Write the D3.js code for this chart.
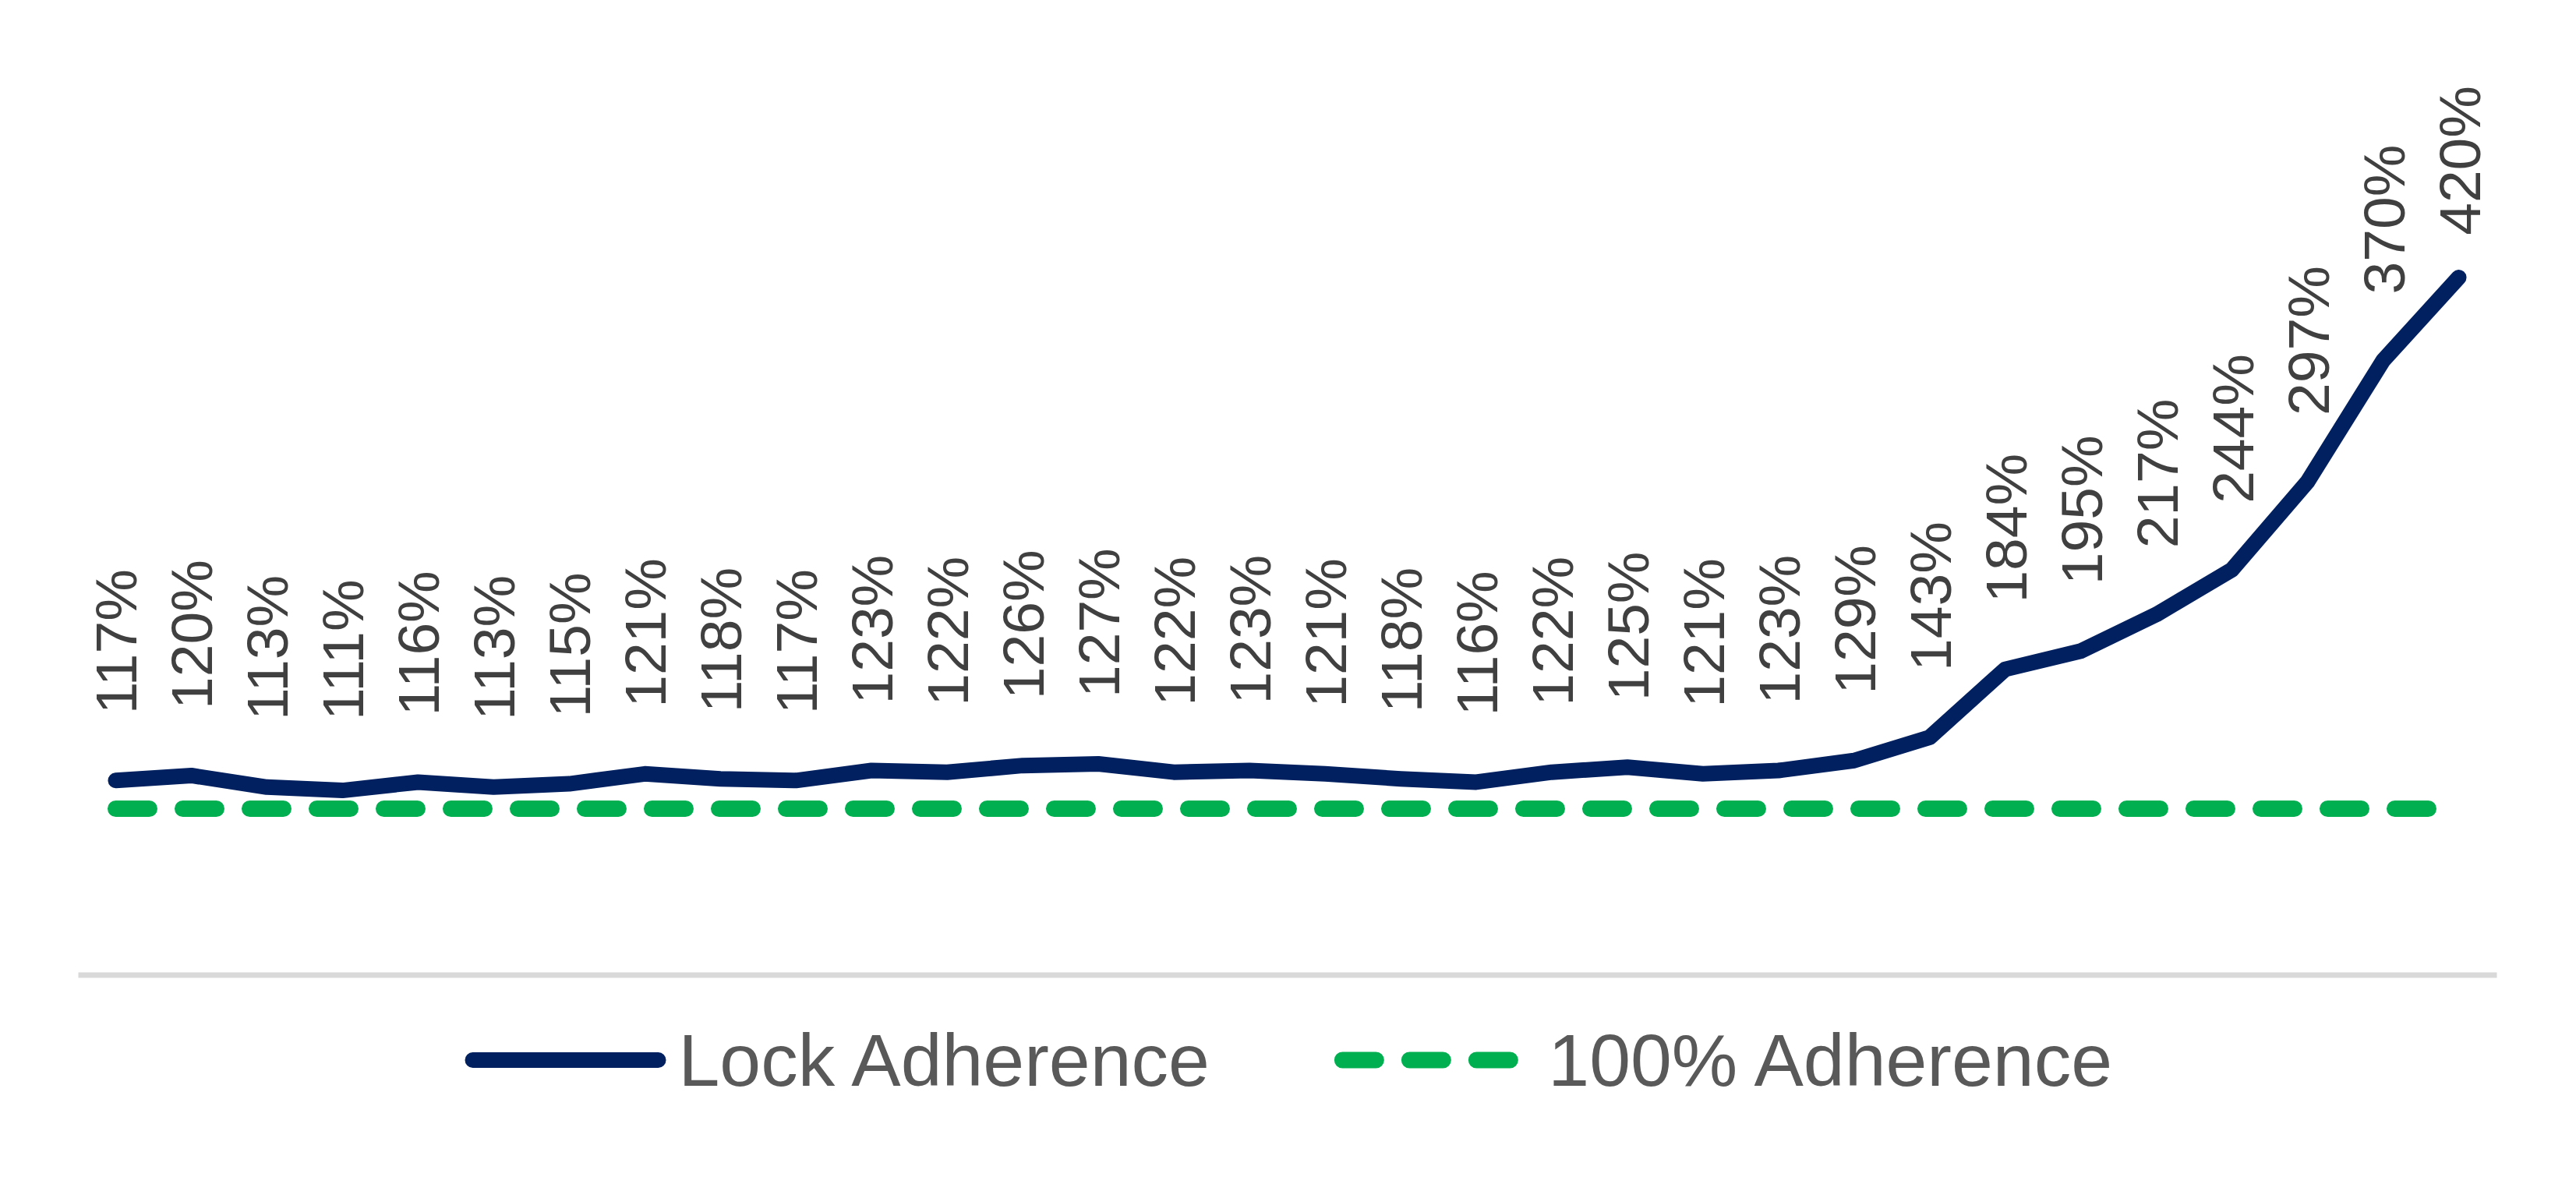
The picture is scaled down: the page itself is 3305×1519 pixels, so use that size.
<!DOCTYPE html>
<html lang="en">
<head>
	<meta charset="UTF-8">
	<title>Lock Adherence</title>
	<script src="https://cdnjs.cloudflare.com/ajax/libs/d3/7.8.5/d3.min.js"></script>
	<style>
		*{
			padding: 0;
			margin: 0;
		}
		body{
			background-color: #fff;
		}
		#container{
			width: 3305px;
			height: 1519px;
		}
		text{
			font-family: "Liberation Sans", Arial, sans-serif;
		}
		.label{
			fill: #404040;
			font-size: 75px;
		}
		.legend text{
			fill: #595959;
			font-size: 95px;
		}
	</style>
</head>
<body>
	<div id="container"></div>
<script>
	// periods along the x axis (no tick labels shown on the chart)
	var categories=['1','2','3','4','5','6','7','8','9','10','11','12','13','14','15','16',
		'17','18','19','20','21','22','23','24','25','26','27','28','29','30','31','32']

	// lock adherence, percent
	var lock_adherence=[117,120,113,111,116,113,115,121,118,117,123,122,126,127,122,123,
		121,118,116,122,125,121,123,129,143,184,195,217,244,297,370,420]

	// reference line, percent
	var full_adherence=[100,100,100,100,100,100,100,100,100,100,100,100,100,100,100,100,
		100,100,100,100,100,100,100,100,100,100,100,100,100,100,100,100]

	var series_names=['Lock Adherence','100% Adherence']
	var series_colors=['#002060','#00B050']

	var width=3305,
	height=1519

	var svg=d3.select('#container')
	.append('svg')
	.attr('width',width)
	.attr('height',height)

	var scale_x=d3.scalePoint()
	.domain(categories)
	.range([100,3203])
	.padding(0.5)

	var scale_y=d3.scaleLinear()
	.domain([0,420])
	.range([1250.5,356])

	// category axis: just the light gray baseline
	var x_axis=d3.axisBottom(scale_x).tickSize(0).tickFormat('')
	svg.append('g')
	.attr('transform','translate(0,'+scale_y(0)+')')
	.call(x_axis)
	.call(function(g){
		g.select('.domain').attr('stroke','#d9d9d9').attr('stroke-width',7)
		g.selectAll('.tick').remove()
	})

	var line_generator=d3.line()
	.x(function(d,i){return scale_x(categories[i])})
	.y(function(d){return scale_y(d)})

	svg.append('path')
	.attr('d',line_generator(full_adherence))
	.attr('fill','none')
	.attr('stroke',series_colors[1])
	.attr('stroke-width',21)
	.attr('stroke-linecap','round')
	.attr('stroke-dasharray','43 43')

	svg.append('path')
	.attr('d',line_generator(lock_adherence))
	.attr('fill','none')
	.attr('stroke',series_colors[0])
	.attr('stroke-width',20)
	.attr('stroke-linecap','round')
	.attr('stroke-linejoin','round')

	// rotated data labels above each point
	var label_floor=924,
	label_gap=85,
	label_top=110

	var labels=svg.append('g')
	.selectAll('text')
	.data(lock_adherence)
	.enter()
	.append('text')
	.attr('class','label')
	.text(function(d){return d+'%'})

	labels.each(function(d,i){
		var len=this.getComputedTextLength()
		var bottom=Math.min(label_floor,scale_y(d)-label_gap)
		bottom=Math.max(bottom,label_top+len)
		d3.select(this)
		.attr('transform','translate('+scale_x(categories[i])+','+bottom+') rotate(-90)')
		.attr('dy','0.36em')
	})

	// legend
	var legend=svg.append('g').attr('class','legend')
	var sample_len=238,
	cap=10.5,
	text_gap=26,
	item_gap=160,
	legend_y=1360

	var items=[]
	var x=0
	series_names.forEach(function(name,i){
		var item=legend.append('g')
		item.append('line')
		.attr('x1',x+cap)
		.attr('x2',x+cap+sample_len)
		.attr('y1',legend_y)
		.attr('y2',legend_y)
		.attr('stroke',series_colors[i])
		.attr('stroke-width',i==0?20:21)
		.attr('stroke-linecap','round')
		.attr('stroke-dasharray',i==0?null:'43 43')
		var t=item.append('text')
		.attr('x',x+cap+sample_len+text_gap)
		.attr('y',legend_y)
		.attr('dy','0.35em')
		.text(name)
		x=x+cap+sample_len+text_gap+t.node().getComputedTextLength()+item_gap
	})
	var legend_w=x-item_gap
	legend.attr('transform','translate('+(1653-legend_w/2)+',0)')
</script>
</body>
</html>
